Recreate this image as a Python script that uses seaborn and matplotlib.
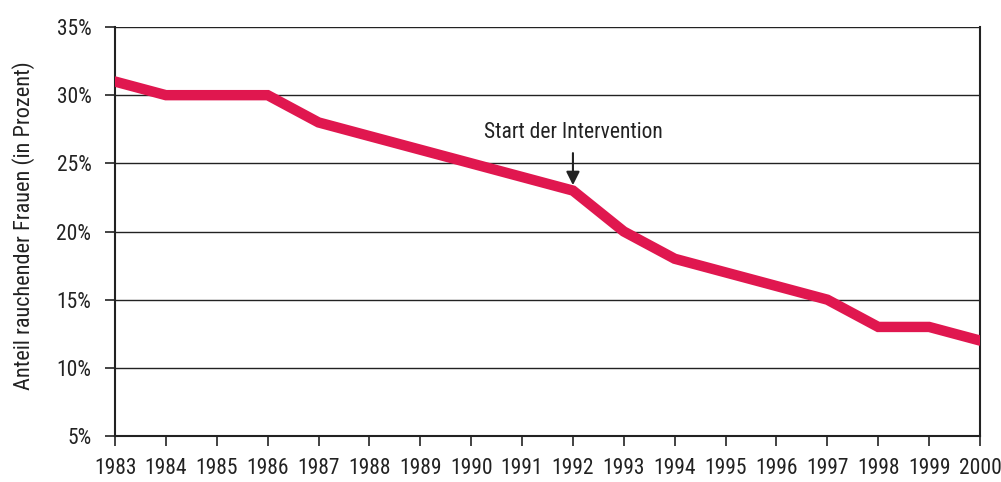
import matplotlib
matplotlib.use("Agg")
import matplotlib.pyplot as plt
import seaborn as sns
import pandas as pd
from matplotlib.ticker import FuncFormatter

years = [1983, 1984, 1985, 1986, 1987, 1988, 1989, 1990, 1991, 1992,
         1993, 1994, 1995, 1996, 1997, 1998, 1999, 2000]
smokers_pct = [31, 30, 30, 30, 28, 27, 26, 25, 24, 23,
               20, 18, 17, 16, 15, 13, 13, 12]
y_ticks = [5, 10, 15, 20, 25, 30, 35]
annot_year = 1992
annot_text = "Start der Intervention"

df = pd.DataFrame({"year": years, "pct": smokers_pct})

sns.set_style("white")
plt.rcParams['font.family'] = ['Roboto Condensed', 'Liberation Sans Narrow',
                               'Liberation Sans', 'DejaVu Sans']

fig = plt.figure(figsize=(10.01, 4.82), dpi=100)
ax = fig.add_axes([115 / 1001, 1 - 436 / 482, 865 / 1001, 409 / 482])

sns.lineplot(data=df, x="year", y="pct", ax=ax, color="#E0174F",
             linewidth=7.5, solid_joinstyle="miter", zorder=3)

ax.set_xlim(years[0], years[-1])
ax.set_ylim(5, 35)
ax.set_xticks(years)
ax.set_yticks(y_ticks)
ax.yaxis.set_major_formatter(FuncFormatter(lambda v, p: f"{v:.0f}%"))

for t in y_ticks[1:]:
    ax.axhline(t, color="#222222", linewidth=1.0, zorder=1)

for side in ["left", "bottom", "right"]:
    ax.spines[side].set_visible(True)
    ax.spines[side].set_color("#222222")
    ax.spines[side].set_linewidth(1.5)
ax.spines["top"].set_visible(False)

ax.tick_params(axis="x", direction="out", length=7, width=1.2, color="#222222",
               pad=9, labelsize=15.5, labelcolor="#222222", bottom=True)
ax.tick_params(axis="y", direction="out", length=7, width=1.2, color="#222222",
               pad=10, labelsize=15.5, labelcolor="#222222", left=True)

ax.set_xlabel("")
ax.set_ylabel("Anteil rauchender Frauen (in Prozent)", fontsize=16,
              color="#222222")
ax.yaxis.set_label_coords(-80 / 865, 0.515)

y_annot = smokers_pct[years.index(annot_year)]
ax.annotate(annot_text, xy=(annot_year, y_annot + 0.4),
            xytext=(annot_year, 26.5), ha="center", va="bottom",
            fontsize=15.5, color="#222222",
            arrowprops=dict(arrowstyle="-|>", color="#222222", lw=1.5,
                            mutation_scale=20, shrinkA=5, shrinkB=0))

fig.savefig("out.png", dpi=100)
